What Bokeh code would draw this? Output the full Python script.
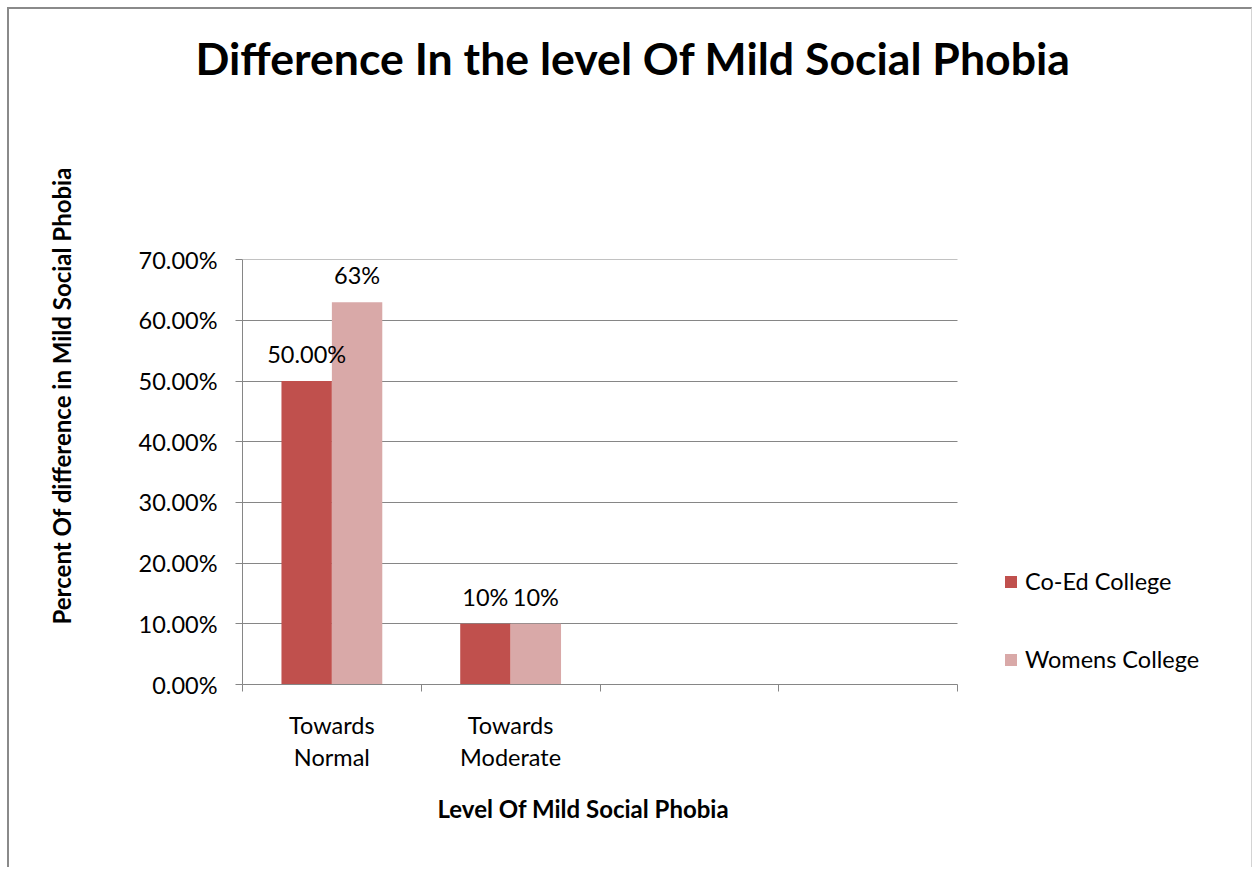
from bokeh.core.properties import value
from bokeh.embed import file_html
from bokeh.models import (ColumnDataSource, FixedTicker, LabelSet, Legend,
                          LegendItem, NumeralTickFormatter, Range1d, Title)
from bokeh.plotting import figure
from bokeh.resources import INLINE

# ---- data -------------------------------------------------------------
categories = ["Towards\nNormal", "Towards\nModerate", "", ""]
series_names = ["Co-Ed College", "Womens College"]
coed_values = [0.50, 0.10]
womens_values = [0.63, 0.10]
coed_labels = ["50.00%", "10%"]
womens_labels = ["63%", "10%"]
y_ticks = [0.0, 0.1, 0.2, 0.3, 0.4, 0.5, 0.6, 0.7]

title_text = "Difference In the level Of Mild Social Phobia"
x_title = "Level Of Mild Social Phobia"
y_title = "Percent Of difference in Mild Social Phobia"

# ---- styling ----------------------------------------------------------
FONT = "Lato"
COED_COLOR = "#C0504D"
WOMENS_COLOR = "#D9A9A8"
AXIS_COLOR = "#868686"
BAR_W = 0.282          # fraction of a category slot per bar
TXT = "23.5px"

W, H = 1245, 860       # canvas size (inside the css border)
LEFT, TOP, BOTTOM = 233, 250, 185
AXIS_W = 715           # width of the category axis in pixels
FRAME_W = W - LEFT     # frame runs to the right edge so the legend fits inside

n_slots = len(categories)
slot_centers = [i + 0.5 for i in range(n_slots)]
coed_x = [slot_centers[i] - BAR_W / 2 for i in range(len(coed_values))]
womens_x = [slot_centers[i] + BAR_W / 2 for i in range(len(womens_values))]

coed_src = ColumnDataSource(dict(x=coed_x, top=coed_values, text=coed_labels))
womens_src = ColumnDataSource(dict(x=womens_x, top=womens_values, text=womens_labels))

p = figure(width=W, height=H, output_backend="svg", toolbar_location=None,
           x_range=Range1d(0, n_slots * FRAME_W / AXIS_W), y_range=Range1d(0, 0.7003),
           min_border_left=LEFT, min_border_right=0,
           min_border_top=TOP, min_border_bottom=BOTTOM)
p.styles = {"margin-left": "7px", "margin-top": "7px",
            "border-left": "2px solid #8a8a8a", "border-top": "2px solid #8a8a8a",
            "border-right": "1px solid #d4d4d4"}
p.outline_line_color = None
p.background_fill_color = "white"
p.border_fill_color = "white"

r_coed = p.vbar(x="x", top="top", width=BAR_W, source=coed_src,
                fill_color=COED_COLOR, line_color=None)
r_womens = p.vbar(x="x", top="top", width=BAR_W, source=womens_src,
                  fill_color=WOMENS_COLOR, line_color=None)

for src in (coed_src, womens_src):
    p.add_layout(LabelSet(x="x", y="top", text="text", source=src,
                          y_offset=27, text_align="center", text_baseline="middle",
                          text_font=value(FONT), text_font_size=TXT,
                          text_color="black"))

# ---- axes -------------------------------------------------------------
xa = p.xaxis[0]
xa.bounds = (0, n_slots)
xa.ticker = FixedTicker(ticks=slot_centers, minor_ticks=list(range(n_slots + 1)))
xa.major_label_overrides = {c: lab for c, lab in zip(slot_centers, categories)}
xa.major_tick_out = 0
xa.major_tick_in = 0
xa.minor_tick_out = 7
xa.minor_tick_in = 0
xa.minor_tick_line_color = AXIS_COLOR
xa.axis_line_color = AXIS_COLOR
xa.major_label_standoff = 19
xa.major_label_text_font = FONT
xa.major_label_text_font_size = TXT
xa.major_label_text_line_height = 1.15
xa.major_label_text_color = "black"

ya = p.yaxis[0]
ya.ticker = FixedTicker(ticks=y_ticks)
ya.formatter = NumeralTickFormatter(format="0.00%")
ya.major_tick_out = 7
ya.major_tick_in = 0
ya.minor_tick_line_color = None
ya.axis_line_color = AXIS_COLOR
ya.major_tick_line_color = AXIS_COLOR
ya.major_label_standoff = 18
ya.major_label_text_font = FONT
ya.major_label_text_font_size = TXT
ya.major_label_text_color = "black"

p.xgrid.grid_line_color = None
p.ygrid.grid_line_color = AXIS_COLOR
p.ygrid.ticker = FixedTicker(ticks=y_ticks)
p.ygrid.cross_bounds = (0, n_slots)

# ---- titles -----------------------------------------------------------
# blank titles act as spacers between the frame and the real titles
p.add_layout(Title(text=" ", standoff=163, text_font_size="10px"), "above")
p.add_layout(Title(text=title_text, align="left", offset=-47, standoff=0,
                   text_font=FONT, text_font_style="bold", text_font_size="44.6px",
                   text_color="black"), "above")
p.add_layout(Title(text=x_title, align="left", offset=195, standoff=36,
                   text_font=FONT, text_font_style="bold", text_font_size="24px",
                   text_color="black"), "below")
p.add_layout(Title(text=" ", standoff=47, text_font_size="10px"), "left")
p.add_layout(Title(text=y_title, align="left", offset=60, standoff=0,
                   text_font=FONT, text_font_style="bold", text_font_size="24px",
                   text_color="black"), "left")

# ---- legend -----------------------------------------------------------
legend = Legend(items=[LegendItem(label=series_names[0], renderers=[r_coed]),
                       LegendItem(label=series_names[1], renderers=[r_womens])],
                location=(761, 11), orientation="vertical",
                glyph_width=15, glyph_height=15, label_height=20,
                label_standoff=7, spacing=50, padding=0, margin=0,
                border_line_color=None, background_fill_alpha=0,
                label_text_font=FONT, label_text_font_size=TXT,
                label_text_color="black")
p.add_layout(legend)

open("out.html", "w").write(file_html(p, INLINE))
